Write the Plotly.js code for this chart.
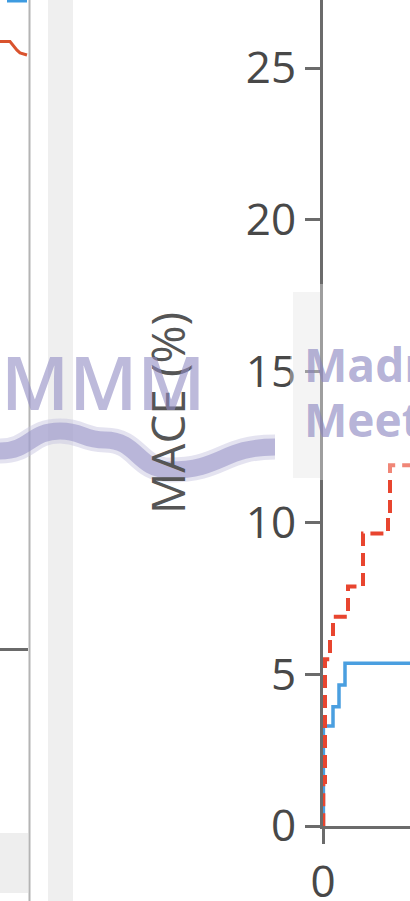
<!DOCTYPE html>
<html>
<head>
<meta charset="utf-8">
<script src="https://cdn.plot.ly/plotly-3.0.1.min.js"></script>
<style>
  html, body { margin: 0; padding: 0; background: #fff; overflow: hidden; }
  #chart { width: 410px; height: 901px; }
</style>
</head>
<body>
<div id="chart"></div>
<script>
// ---- Data ----
// Time since index (arbitrary units, only the start of the axis is visible)
const redTime  = [0, 0.3, 2, 7, 10, 25, 40, 65, 67, 90];
const redMACE  = [0, 1.45, 5.5, 6.2, 6.9, 7.9, 9.65, 10.2, 11.9, 11.9];
const blueTime = [0, 0.4, 10, 16, 22, 90];
const blueMACE = [0, 3.3, 3.93, 4.65, 5.37, 5.37];
// Fragment of a neighbouring panel (left edge of the picture)
const leftTime  = [0, 10, 17, 20, 27];
const leftValue = [25.87, 25.87, 25.59, 25.5, 25.43];

const yTickVals = [0, 5, 10, 15, 20, 25];
const xTickVals = [0];
const yTitle = 'MACE (%)';
const wmLeft = 'MMM';
const wmRight1 = 'Madrid';
const wmRight2 = 'Meeting';

// ---- Layout helpers (pixel -> paper) ----
const W = 410, H = 901, MB = 75, PH = H - MB;
const px = x => x / W;
const py = y => (PH - y) / PH;

const traces = [
  { x: blueTime, y: blueMACE, type: 'scatter', mode: 'lines',
    line: { shape: 'hv', color: '#4a9fe0', width: 3.5 }, hoverinfo: 'skip' },
  { x: redTime, y: redMACE, type: 'scatter', mode: 'lines',
    line: { shape: 'hv', color: '#e8452f', width: 4, dash: '13px,7px' }, hoverinfo: 'skip' },
  { x: leftTime, y: leftValue, xaxis: 'x2', yaxis: 'y2', type: 'scatter', mode: 'lines',
    line: { color: '#d9532e', width: 3 }, hoverinfo: 'skip' }
];

function wavePath() {
  const pts = [[0,451],[60,431],[105,440],[170,470],[275,447]];
  let d = `M ${px(pts[0][0])} ${py(pts[0][1])}`;
  for (let i = 1; i < pts.length; i++) {
    const [x0,y0] = pts[i-1], [x1,y1] = pts[i];
    const cx = (x0 + x1) / 2;
    d += ` C ${px(cx)} ${py(y0)}, ${px(cx)} ${py(y1)}, ${px(x1)} ${py(y1)}`;
  }
  return d;
}

const shapes = [
  // neighbouring panel pieces
  { type: 'rect', xref: 'paper', yref: 'paper', x0: px(48), x1: px(73), y0: py(901), y1: py(0),
    fillcolor: '#efefef', line: { width: 0 }, layer: 'below' },
  { type: 'line', xref: 'paper', yref: 'paper', x0: px(29.5), x1: px(29.5), y0: py(901), y1: py(0),
    line: { color: '#b4b4b4', width: 2 }, layer: 'below' },
  { type: 'line', xref: 'paper', yref: 'paper', x0: px(0), x1: px(28), y0: py(649.5), y1: py(649.5),
    line: { color: '#6a6a6a', width: 3 }, layer: 'below' },
  { type: 'rect', xref: 'paper', yref: 'paper', x0: px(0), x1: px(28), y0: py(893), y1: py(833),
    fillcolor: '#eeeeee', line: { width: 0 }, layer: 'below' },
  { type: 'rect', xref: 'paper', yref: 'paper', x0: px(7), x1: px(27), y0: py(2.5), y1: py(0),
    fillcolor: '#3d9be0', line: { width: 0 }, layer: 'below' },
  // watermark pieces
  { type: 'rect', xref: 'paper', yref: 'paper', x0: px(293), x1: px(320), y0: py(478), y1: py(292),
    fillcolor: '#efefef', line: { width: 0 }, layer: 'below' },
  { type: 'rect', xref: 'paper', yref: 'paper', x0: px(290), x1: px(410), y0: py(480), y1: py(284),
    fillcolor: 'rgba(255,255,255,0.35)', line: { width: 0 }, layer: 'above' },
  { type: 'path', xref: 'paper', yref: 'paper', path: wavePath(),
    line: { color: 'rgba(195,193,222,0.45)', width: 25 }, layer: 'above' },
  { type: 'path', xref: 'paper', yref: 'paper', path: wavePath(),
    line: { color: 'rgba(150,146,198,0.55)', width: 17 }, layer: 'above' }
];

const annotations = [
  { text: wmLeft, xref: 'paper', yref: 'paper', x: px(103), y: py(381), xanchor: 'center', yanchor: 'middle',
    showarrow: false, font: { family: 'Open Sans', size: 74, color: 'rgba(145,140,195,0.6)', weight: 600 } },
  { text: '<b>' + wmRight1 + '</b>', xref: 'paper', yref: 'paper', x: px(302), y: py(364), xanchor: 'left', yanchor: 'middle',
    showarrow: false, font: { family: 'Open Sans', size: 46, color: 'rgba(135,130,190,0.62)' } },
  { text: '<b>' + wmRight2 + '</b>', xref: 'paper', yref: 'paper', x: px(302), y: py(419), xanchor: 'left', yanchor: 'middle',
    showarrow: false, font: { family: 'Open Sans', size: 46, color: 'rgba(135,130,190,0.62)' } }
];

const layout = {
  width: W, height: H,
  margin: { l: 0, r: 0, t: 0, b: MB, pad: 0 },
  paper_bgcolor: '#ffffff', plot_bgcolor: 'rgba(0,0,0,0)',
  showlegend: false,
  font: { family: 'Open Sans', color: '#444' },
  xaxis: {
    domain: [323 / W, 1], range: [0, 87], tickmode: 'array', tickvals: xTickVals,
    showgrid: false, zeroline: false, showline: true, linecolor: '#6b6b6b', linewidth: 3,
    ticks: 'outside', ticklen: 15, tickwidth: 3, tickcolor: '#6b6b6b',
    tickfont: { family: 'Open Sans', size: 44, color: '#484848' }, layer: 'below traces', fixedrange: true
  },
  yaxis: {
    domain: [0, 1], range: [0, PH / 30.32], tickmode: 'array', tickvals: yTickVals,
    showgrid: false, zeroline: false, showline: true, linecolor: '#6b6b6b', linewidth: 3,
    ticks: 'outside', ticklen: 15, tickwidth: 3, tickcolor: '#6b6b6b',
    tickfont: { family: 'Open Sans', size: 44, color: '#484848' }, layer: 'below traces', fixedrange: true,
    title: { text: yTitle, font: { family: 'Open Sans', size: 46, color: '#555' }, standoff: 46 }
  },
  xaxis2: { domain: [0, 28 / W], range: [0, 28], visible: false, fixedrange: true, anchor: 'y2' },
  yaxis2: { domain: [0, 1], range: [0, PH / 30.32], visible: false, fixedrange: true, anchor: 'x2' },
  shapes: shapes,
  annotations: annotations
};

Plotly.newPlot('chart', traces, layout, { displayModeBar: false, staticPlot: true });
</script>
</body>
</html>
